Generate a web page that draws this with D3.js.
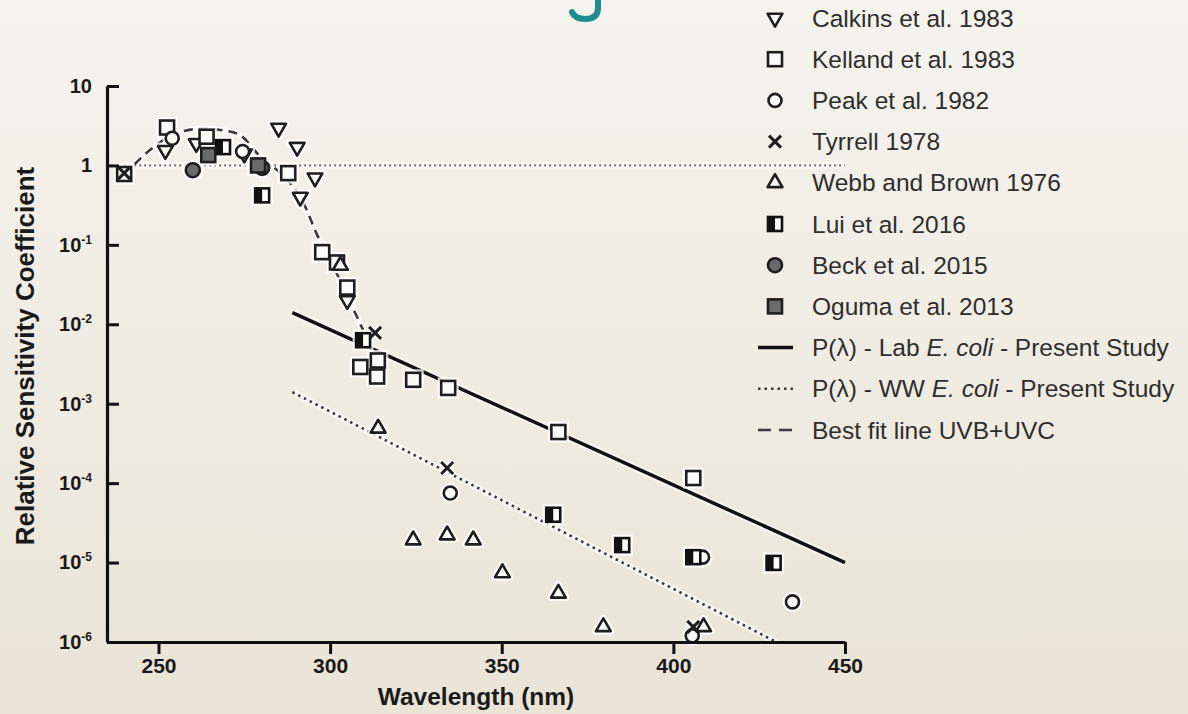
<!DOCTYPE html>
<html><head><meta charset="utf-8">
<script src="https://cdn.jsdelivr.net/npm/d3@7"></script>
<style>html,body{margin:0;padding:0;}body{width:1188px;height:714px;overflow:hidden;}</style>
</head><body><svg id="c" width="1188" height="714"></svg>
<script>
// ---------- data ----------
const xTickValues = [250, 300, 350, 400, 450];
const yTickExponents = [-6, -5, -4, -3, -2, -1, 0, 1];

const calkinsX = [252, 261, 275, 285, 290.4, 291.3, 295.6, 305];
const calkinsY = [1.55, 1.9, 1.4, 2.96, 1.7, 0.40, 0.70, 0.020];

const kellandX = [240, 252.5, 264, 287.8, 297.7, 302, 305, 308.8, 313.7, 313.9, 324.2, 334.4, 366.5, 405.8];
const kellandY = [0.78, 3.0, 2.3, 0.80, 0.081, 0.06, 0.029, 0.0029, 0.0022, 0.0035, 0.0020, 0.00158, 0.00044, 0.000116];

const peakX = [254, 274.5, 335, 408.5, 434.7, 405.5];
const peakY = [2.2, 1.5, 7.5e-5, 1.17e-5, 3.2e-6, 1.2e-6];

const tyrrellX = [240, 313.1, 334.1, 405.8];
const tyrrellY = [0.8, 0.0078, 0.000155, 1.55e-6];

const webbX = [303, 314, 324.2, 334.1, 341.7, 350.2, 366.5, 379.6, 408.8];
const webbY = [0.055, 0.00049, 1.92e-5, 2.22e-5, 1.92e-5, 7.4e-6, 4.1e-6, 1.55e-6, 1.55e-6];

const luiX = [268.8, 280.2, 309.6, 365, 385.1, 405.8, 429.2];
const luiY = [1.7, 0.42, 0.0063, 4.0e-5, 1.66e-5, 1.17e-5, 9.9e-6];

const beckX = [260, 280.2];
const beckY = [0.87, 0.93];

const ogumaX = [264.5, 279];
const ogumaY = [1.35, 1.0];

const labLineX = [289, 450];
const labLineY = [0.014, 1.0e-5];

const wwLineX = [289, 430];
const wwLineY = [1.4e-3, 1.0e-6];

const bestFitX = [240, 247.5, 254.8, 262, 268, 273.8, 279.6, 286.3, 291.3, 296.5, 300, 303.8, 307.3, 309.6];
const bestFitY = [0.76, 1.56, 2.5, 2.9, 2.8, 2.4, 1.3, 0.75, 0.40, 0.126, 0.065, 0.0295, 0.0139, 0.0085];

const refLineX = [240, 450];
const refLineY = [1, 1];

const legendLabels = [
  "Calkins et al. 1983", "Kelland et al. 1983", "Peak et al. 1982", "Tyrrell 1978",
  "Webb and Brown 1976", "Lui et al. 2016", "Beck et al. 2015", "Oguma et al. 2013",
  "P(\u03bb) - Lab |E. coli| - Present Study", "P(\u03bb) - WW |E. coli| - Present Study",
  "Best fit line UVB+UVC"
];

// ---------- setup ----------
const svg = d3.select('#c');
const defs = svg.append('defs');
const grad = defs.append('linearGradient').attr('id', 'bg').attr('x1', 0).attr('y1', 0).attr('x2', 0).attr('y2', 1);
grad.append('stop').attr('offset', '0').attr('stop-color', '#f4f3ee');
grad.append('stop').attr('offset', '0.5').attr('stop-color', '#efece3');
grad.append('stop').attr('offset', '1').attr('stop-color', '#e9e4d6');
svg.append('rect').attr('width', 1188).attr('height', 714).attr('fill', 'url(#bg)');

const FONT = "'Liberation Sans', Arial, sans-serif";
const x = d3.scaleLinear().domain([235, 450]).range([107, 845]);
const y = d3.scaleLog().domain([1e-6, 10]).range([642, 86]);

// cropped teal heading remnant (decorative, cut by the top edge)
svg.append('path').attr('d', 'M598,0 L598,8 Q598,19 585,19 Q575,19 572,12')
  .attr('fill', 'none').attr('stroke', '#1f8d8f').attr('stroke-width', 6).attr('stroke-linecap', 'round');

// ---------- lines ----------
const line = d3.line().x(d => x(d[0])).y(d => y(d[1]));
const zipper = (a, b) => a.map((v, i) => [v, b[i]]);
const lines = [
  {data: zipper(refLineX, refLineY), stroke: '#7a7a7a', w: 2.2, dash: '2,3', curve: d3.curveLinear},
  {data: zipper(labLineX, labLineY), stroke: '#111', w: 3.5, dash: null, curve: d3.curveLinear},
  {data: zipper(wwLineX, wwLineY), stroke: '#3c3c3c', w: 2.6, dash: '2.5,4', curve: d3.curveLinear},
  {data: zipper(bestFitX, bestFitY), stroke: '#3a3a3a', w: 2.6, dash: '9,6', curve: d3.curveCatmullRom},
];
const gl = svg.append('g');
lines.forEach(L => {
  gl.append('path').attr('d', line.curve(L.curve)(L.data)).attr('fill', 'none')
    .attr('stroke', '#fff').attr('stroke-opacity', 0.55).attr('stroke-width', L.w + 4);
});
lines.forEach(L => {
  gl.append('path').attr('d', line.curve(L.curve)(L.data)).attr('fill', 'none')
    .attr('stroke', L.stroke).attr('stroke-width', L.w)
    .attr('stroke-dasharray', L.dash);
});

// ---------- markers ----------
function drawMarker(g, type, cx, cy, halo) {
  const m = g.append('g').attr('transform', `translate(${cx},${cy})`);
  const sw = halo ? 7 : 2.6;
  const st = halo ? '#fff' : '#1e1e1e';
  const op = halo ? 0.8 : 1;
  const add = (el) => el.attr('stroke', st).attr('stroke-width', sw).attr('stroke-opacity', op);
  if (type === 'triDown' || type === 'triUp') {
    const p = d3.symbol(d3.symbolTriangle, 95)();
    add(m.append('path').attr('d', p).attr('fill', halo ? '#fff' : '#fbfbf8')
      .attr('transform', type === 'triDown' ? 'rotate(180)' : null).attr('stroke-linejoin', 'round'));
  } else if (type === 'square') {
    add(m.append('rect').attr('x', -7).attr('y', -7).attr('width', 14).attr('height', 14).attr('fill', '#fbfbf8'));
  } else if (type === 'circle') {
    add(m.append('circle').attr('r', 6.5).attr('fill', '#fbfbf8'));
  } else if (type === 'cross') {
    add(m.append('path').attr('d', 'M-6,-6L6,6M-6,6L6,-6').attr('fill', 'none'))
      .attr('stroke-width', halo ? 7 : 3);
  } else if (type === 'half') {
    if (!halo) {
      m.append('rect').attr('x', -7).attr('y', -7).attr('width', 14).attr('height', 14).attr('fill', '#fbfbf8');
      m.append('rect').attr('x', -7).attr('y', -7).attr('width', 7).attr('height', 14).attr('fill', '#111');
      m.append('rect').attr('x', -7).attr('y', -7).attr('width', 14).attr('height', 14).attr('fill', 'none')
        .attr('stroke', '#111').attr('stroke-width', 2.6);
    } else {
      add(m.append('rect').attr('x', -7).attr('y', -7).attr('width', 14).attr('height', 14).attr('fill', '#fff'));
    }
  } else if (type === 'grayCircle') {
    add(m.append('circle').attr('r', 7).attr('fill', halo ? '#fff' : '#6a6a6a'));
  } else if (type === 'graySquare') {
    add(m.append('rect').attr('x', -7).attr('y', -7).attr('width', 14).attr('height', 14).attr('fill', halo ? '#fff' : '#6a6a6a'));
  }
}

const series = [
  {type: 'triDown', xs: calkinsX, ys: calkinsY},
  {type: 'square', xs: kellandX, ys: kellandY},
  {type: 'circle', xs: peakX, ys: peakY},
  {type: 'cross', xs: tyrrellX, ys: tyrrellY},
  {type: 'triUp', xs: webbX, ys: webbY},
  {type: 'half', xs: luiX, ys: luiY},
  {type: 'grayCircle', xs: beckX, ys: beckY},
  {type: 'graySquare', xs: ogumaX, ys: ogumaY},
];
const gm = svg.append('g');
series.forEach(s => s.xs.forEach((v, i) => drawMarker(gm, s.type, x(v), y(s.ys[i]), true)));
series.forEach(s => s.xs.forEach((v, i) => drawMarker(gm, s.type, x(v), y(s.ys[i]), false)));

// ---------- axes ----------
const xAxis = d3.axisBottom(x).tickValues(xTickValues).tickSize(12).tickSizeOuter(0).tickPadding(4);
const gx = svg.append('g').attr('transform', 'translate(0,642)').call(xAxis);
gx.selectAll('text').attr('font-family', FONT).attr('font-size', 21).attr('font-weight', 'bold').attr('fill', '#1a1a1a');

const yTickValues = yTickExponents.map(e => Math.pow(10, e));
const yAxis = d3.axisLeft(y).tickValues(yTickValues).tickSize(-12).tickSizeOuter(0).tickPadding(15).tickFormat(() => '');
const gy = svg.append('g').attr('transform', 'translate(107,0)').call(yAxis);
gy.selectAll('.tick text').each(function(d, i) {
  const e = yTickExponents[i];
  const t = d3.select(this).attr('font-family', FONT).attr('font-size', 20).attr('font-weight', 'bold').attr('fill', '#1a1a1a');
  if (e === 0) { t.text('1'); }
  else if (e === 1) { t.text('10'); }
  else {
    t.append('tspan').text('10');
    t.append('tspan').attr('dy', -8).attr('font-size', 12).text('-' + Math.abs(e));
  }
});
[gx, gy].forEach(g => {
  g.select('.domain').attr('stroke', '#111').attr('stroke-width', 3.2);
  g.selectAll('.tick line').attr('stroke', '#111').attr('stroke-width', 3);
});

svg.append('text').attr('x', 476).attr('y', 705).attr('text-anchor', 'middle')
  .attr('font-family', FONT).attr('font-size', 24.5).attr('font-weight', 'bold').attr('fill', '#1a1a1a')
  .text('Wavelength (nm)');
svg.append('text').attr('transform', 'translate(34,356) rotate(-90)').attr('text-anchor', 'middle')
  .attr('font-family', FONT).attr('font-size', 26).attr('font-weight', 'bold').attr('fill', '#1a1a1a')
  .text('Relative Sensitivity Coefficient');

// ---------- legend ----------
const lg = svg.append('g');
const legendTypes = ['triDown', 'square', 'circle', 'cross', 'triUp', 'half', 'grayCircle', 'graySquare', 'solid', 'dotted', 'dashed'];
legendLabels.forEach((lab, i) => {
  const cy = 18 + i * 41.2;
  const type = legendTypes[i];
  if (type === 'solid') {
    lg.append('line').attr('x1', 758).attr('x2', 793).attr('y1', cy).attr('y2', cy).attr('stroke', '#111').attr('stroke-width', 3.5);
  } else if (type === 'dotted') {
    lg.append('line').attr('x1', 758).attr('x2', 793).attr('y1', cy).attr('y2', cy).attr('stroke', '#3c3c3c').attr('stroke-width', 2.4).attr('stroke-dasharray', '2.5,4');
  } else if (type === 'dashed') {
    lg.append('line').attr('x1', 758).attr('x2', 793).attr('y1', cy).attr('y2', cy).attr('stroke', '#3a3a3a').attr('stroke-width', 2.6).attr('stroke-dasharray', '13,8');
  } else {
    drawMarker(lg, type, 775, cy, false);
  }
  const t = lg.append('text').attr('x', 812).attr('y', cy + 8.5)
    .attr('font-family', FONT).attr('font-size', 24.5).attr('fill', '#2e2e2e');
  lab.split('|').forEach((part, j) => {
    t.append('tspan').attr('font-style', j % 2 === 1 ? 'italic' : null).text(part);
  });
});
</script></body></html>
